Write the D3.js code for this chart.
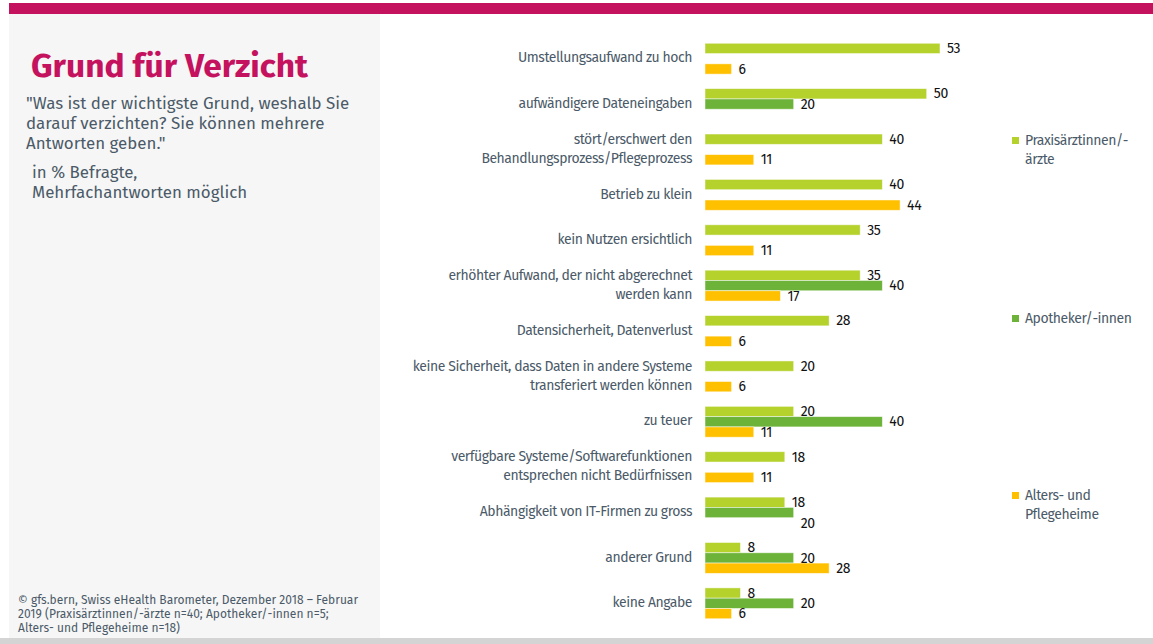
<!DOCTYPE html>
<html>
<head>
<meta charset="utf-8">
<script src="https://cdn.jsdelivr.net/npm/d3@7"></script>
<style>
  body { margin: 0; background: #fff; }
  svg { display: block; font-family: "Fira Sans", Roboto, sans-serif; }
</style>
</head>
<body>
<svg id="chart"></svg>
<script>
// datos (en % Befragte)
const kategorien = [
  "Umstellungsaufwand zu hoch",
  "aufwändigere Dateneingaben",
  "stört/erschwert den\nBehandlungsprozess/Pflegeprozess",
  "Betrieb zu klein",
  "kein Nutzen ersichtlich",
  "erhöhter Aufwand, der nicht abgerechnet\nwerden kann",
  "Datensicherheit, Datenverlust",
  "keine Sicherheit, dass Daten in andere Systeme\ntransferiert werden können",
  "zu teuer",
  "verfügbare Systeme/Softwarefunktionen\nentsprechen nicht Bedürfnissen",
  "Abhängigkeit von IT-Firmen zu gross",
  "anderer Grund",
  "keine Angabe"
];

const serien = ["Praxisärztinnen/-ärzte", "Apotheker/-innen", "Alters- und Pflegeheime"];

const praxis    = [53, 50, 40, 40, 35, 35, 28, 20, 20, 18, 18, 8, 8];
const apotheker = [null, 20, null, null, null, 40, null, null, 40, null, 20, 20, 20];
const heime     = [6, null, 11, 44, 11, 17, 6, 6, 11, 11, null, 28, 6];

const legendeZeilen = [["Praxisärztinnen/-", "ärzte"], ["Apotheker/-innen"], ["Alters- und", "Pflegeheime"]];

const farben = ["#b4d12c", "#6db33a", "#ffc000"];

const WIDTH = 1153, HEIGHT = 644;

const svg = d3.select("#chart")
  .attr("width", WIDTH)
  .attr("height", HEIGHT);

// Hintergrund / Rahmen
svg.append("rect").attr("x", 9).attr("y", 3).attr("width", WIDTH - 9).attr("height", 11).attr("fill", "#c4125e");
svg.append("rect").attr("x", 9).attr("y", 14).attr("width", 371).attr("height", 624).attr("fill", "#f6f6f6");
svg.append("rect").attr("x", 0).attr("y", 638).attr("width", WIDTH).attr("height", 6).attr("fill", "#d4d4d4");

// Titel links
const links = svg.append("g");
links.append("text")
  .attr("x", 31).attr("y", 77)
  .attr("fill", "#c4125e")
  .attr("font-size", 33.5)
  .attr("font-weight", "bold")
  .text("Grund für Verzicht");

const frage = ["\"Was ist der wichtigste Grund, weshalb Sie", "darauf verzichten? Sie können mehrere", "Antworten geben.\""];
links.selectAll("text.frage")
  .data(frage)
  .join("text")
  .attr("class", "frage")
  .attr("x", 26)
  .attr("y", (_, i) => 109 + i * 20)
  .attr("fill", "#4b5a68")
  .attr("font-size", 16.9)
  .text(d => d);

links.selectAll("text.basis")
  .data(["in % Befragte,", "Mehrfachantworten möglich"])
  .join("text")
  .attr("class", "basis")
  .attr("x", 32)
  .attr("y", (_, i) => 178 + i * 20)
  .attr("fill", "#4b5a68")
  .attr("font-size", 16.9)
  .text(d => d);

links.selectAll("text.quelle")
  .data(["© gfs.bern, Swiss eHealth Barometer, Dezember 2018 – Februar",
         "2019 (Praxisärztinnen/-ärzte  n=40; Apotheker/-innen n=5;",
         "Alters- und Pflegeheime n=18)"])
  .join("text")
  .attr("class", "quelle")
  .attr("x", 18)
  .attr("y", (_, i) => 604 + i * 14)
  .attr("fill", "#4b5a68")
  .attr("font-size", 12)
  .text(d => d);

// Skalen
const escalaY = d3.scaleBand()
  .domain(d3.range(kategorien.length))
  .range([36, 626])
  .paddingInner(0.32)
  .paddingOuter(0.16);

const escalaSerie = d3.scaleBand()
  .domain(d3.range(serien.length))
  .range([0, escalaY.bandwidth()]);

const escalaX = d3.scaleLinear()
  .domain([0, 53])
  .range([705, 940]);

const werte = [praxis, apotheker, heime];
const balkenDaten = [];
kategorien.forEach((k, i) => {
  werte.forEach((reihe, s) => {
    if (reihe[i] != null) balkenDaten.push({ kat: i, serie: s, wert: reihe[i], slot: s });
  });
});

// Beschriftung eine Zeile nach unten schieben, wenn sie mit der darüber kollidiert
// und der nächste Platz frei ist
balkenDaten.forEach(d => {
  const oben = balkenDaten.find(o => o.kat === d.kat && o.slot === d.slot - 1);
  const unten = werte[d.serie + 1] && werte[d.serie + 1][d.kat];
  if (oben && unten == null && d.serie + 1 < serien.length &&
      Math.abs(escalaX(oben.wert) - escalaX(d.wert)) < 20) {
    d.slot = d.slot + 1;
  }
});

const balken = svg.append("g");
balken.selectAll("rect")
  .data(balkenDaten)
  .join("rect")
  .attr("x", escalaX(0))
  .attr("y", d => escalaY(d.kat) + escalaSerie(d.serie))
  .attr("width", d => escalaX(d.wert) - escalaX(0))
  .attr("height", escalaSerie.bandwidth())
  .attr("fill", d => farben[d.serie])
  .attr("stroke", "#ffffff")
  .attr("stroke-opacity", 0.6)
  .attr("stroke-width", 0.8);

balken.selectAll("text")
  .data(balkenDaten)
  .join("text")
  .attr("x", d => escalaX(d.wert) + 7)
  .attr("y", d => escalaY(d.kat) + escalaSerie(d.slot) + escalaSerie.bandwidth() / 2 + 1)
  .attr("dominant-baseline", "middle")
  .attr("font-size", 14)
  .attr("letter-spacing", -0.3)
  .attr("fill", "#111")
  .text(d => d.wert);

// Kategorien
const etiketten = svg.append("g");
etiketten.selectAll("text")
  .data(kategorien)
  .join("text")
  .attr("text-anchor", "end")
  .attr("fill", "#4b5a68")
  .attr("font-size", 14)
  .attr("letter-spacing", -0.45)
  .each(function (d, i) {
    const zeilen = d.split("\n");
    const mitte = escalaY(i) + escalaY.bandwidth() / 2;
    d3.select(this).selectAll("tspan")
      .data(zeilen)
      .join("tspan")
      .attr("x", 692)
      .attr("y", (_, j) => mitte + (j - (zeilen.length - 1) / 2) * 19)
      .attr("dominant-baseline", "middle")
      .text(z => z);
  });

// Legende
const legendeY = [141, 319, 496];
const legende = svg.append("g");
legendeZeilen.forEach((zeilen, s) => {
  legende.append("rect")
    .attr("x", 1012).attr("y", legendeY[s] - 4)
    .attr("width", 7).attr("height", 7)
    .attr("fill", farben[s]);
  legende.selectAll(null)
    .data(zeilen)
    .join("text")
    .attr("x", 1025)
    .attr("y", (_, j) => legendeY[s] + j * 19)
    .attr("dominant-baseline", "middle")
    .attr("font-size", 14)
    .attr("letter-spacing", -0.45)
    .attr("fill", "#4b5a68")
    .text(d => d);
});
</script>
</body>
</html>
